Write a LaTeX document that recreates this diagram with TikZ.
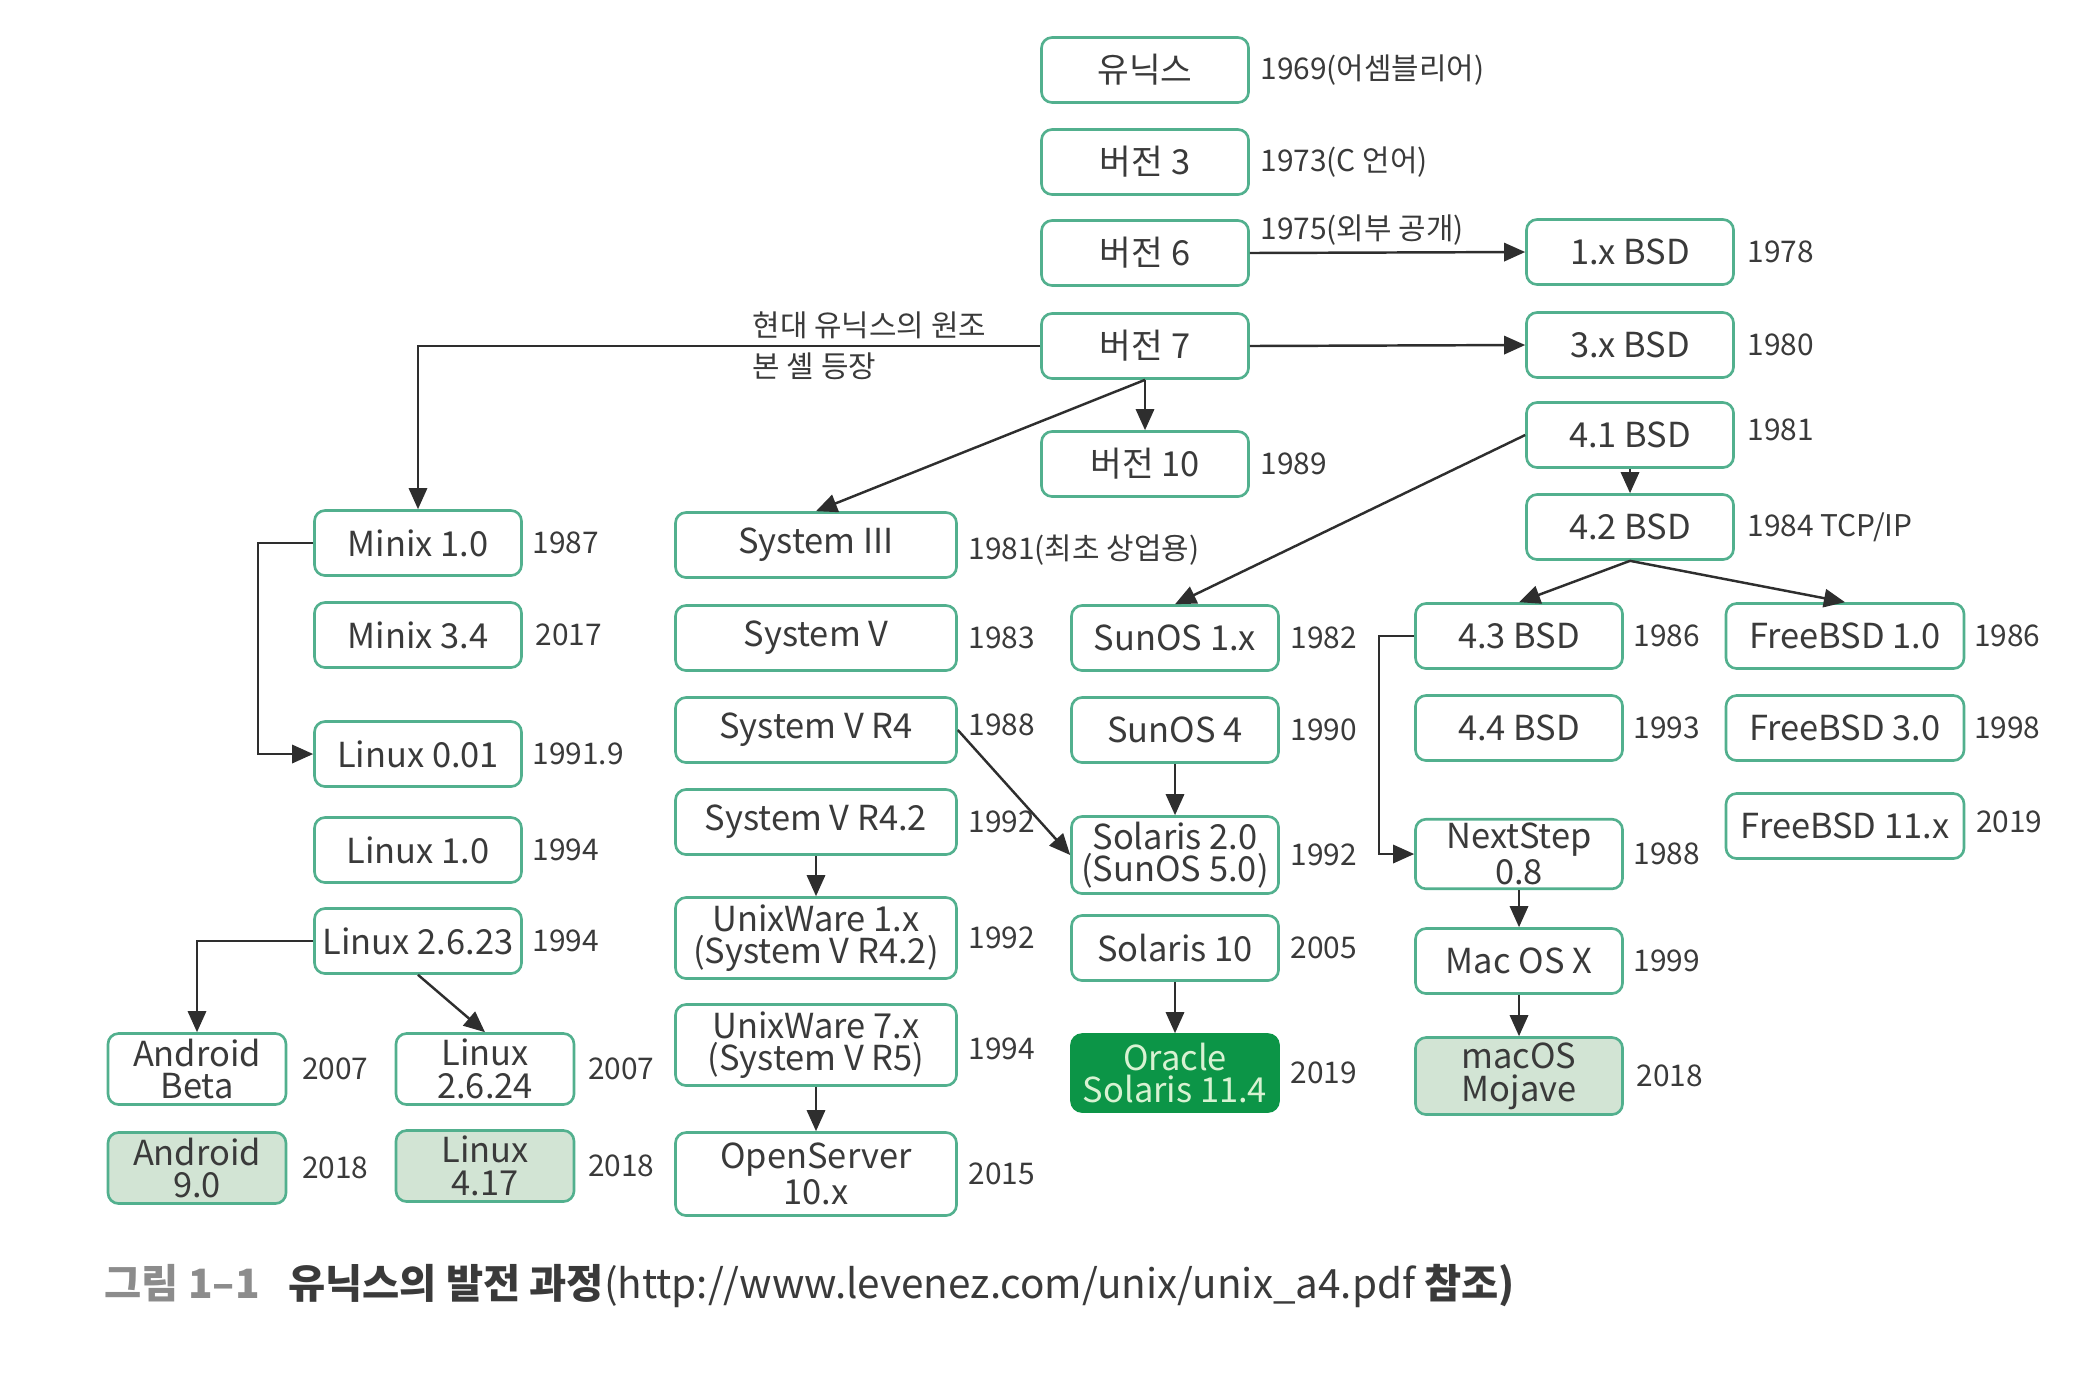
\documentclass[tikz,border=0pt]{standalone}
\usepackage{fontspec}
\setmainfont{Noto Sans CJK KR}
\usetikzlibrary{arrows.meta,positioning}
\definecolor{boxStroke}{HTML}{52B08E}
\definecolor{latestFill}{HTML}{D2E4D4}
\definecolor{oracleFill}{HTML}{0C9547}
\definecolor{oracleText}{HTML}{D8F2D2}
\definecolor{textMain}{HTML}{3A3A3A}
\definecolor{textMuted}{HTML}{8C8C8C}
\definecolor{lineDark}{HTML}{2E2E2E}

\begin{document}
\begin{tikzpicture}[
    font=\fontsize{9.8}{9.3}\selectfont,
    >={Triangle[length=6pt,width=5.2pt]},
    osNode/.style={
        rectangle, rounded corners=3pt,
        draw=boxStroke, line width=0.75pt,
        fill=white, text=textMain,
        minimum width=2.07cm, minimum height=0.65cm,
        inner sep=1pt, align=center
    },
    sysNode/.style={osNode, minimum width=2.81cm},
    freeNode/.style={osNode, minimum width=2.38cm},
    droidNode/.style={osNode, minimum width=1.78cm, minimum height=0.71cm},
    latestNode/.style={fill=latestFill},
    oracleNode/.style={osNode, fill=oracleFill, draw=oracleFill, text=oracleText},
    yearNote/.style={font=\fontsize{8.5}{10}\selectfont, text=textMain, inner sep=0pt},
    flow/.style={->, line width=0.7pt, draw=lineDark}
]
\useasboundingbox (0,0) rectangle (20.88,-13.76);

% Layout plan: one column per family, the year printed to the right of each box.
\node[osNode] (Unix) at (11.45,-0.70) {유닉스};
\node[osNode] (V3) at (11.45,-1.62) {버전 3};
\node[osNode] (V6) at (11.45,-2.53) {버전 6};
\node[osNode] (V7) at (11.45,-3.46) {버전 7};
\node[osNode] (V10) at (11.45,-4.64) {버전 10};
\node[yearNote, right=0.1cm of Unix] (UnixYear) {1969(어셈블리어)};
\node[yearNote, right=0.1cm of V3] (V3Year) {1973(C 언어)};
\node[yearNote, anchor=south west] (V6Year) at ([xshift=0.1cm, yshift=0.07cm]V6.east) {1975(외부 공개)};
\node[yearNote, right=0.1cm of V10] (V10Year) {1989};
\node[yearNote, anchor=west] (V7NoteA) at (7.52,-3.25) {현대 유닉스의 원조};
\node[yearNote, anchor=west] (V7NoteB) at (7.52,-3.66) {본 셸 등장};

\node[osNode] (BSD1) at (16.30,-2.52) {1.x BSD};
\node[osNode] (BSD3) at (16.30,-3.45) {3.x BSD};
\node[osNode] (BSD41) at (16.30,-4.35) {4.1 BSD};
\node[osNode] (BSD42) at (16.30,-5.27) {4.2 BSD};
\node[yearNote, right=0.12cm of BSD1] (BSD1Year) {1978};
\node[yearNote, right=0.12cm of BSD3] (BSD3Year) {1980};
\node[yearNote, right=0.12cm of BSD41, yshift=0.05cm] (BSD41Year) {1981};
\node[yearNote, right=0.12cm of BSD42] (BSD42Year) {1984 TCP/IP};

\node[sysNode] (SysIII) at (8.16,-5.45) {System III};
\node[sysNode] (SysV) at (8.16,-6.38) {System V};
\node[sysNode] (SysVR4) at (8.16,-7.30) {System V R4};
\node[sysNode] (SysVR42) at (8.16,-8.22) {System V R4.2};
\node[sysNode, minimum height=0.81cm] (UnixWare1) at (8.16,-9.38) {UnixWare 1.x\\(System V R4.2)};
\node[sysNode, minimum height=0.81cm] (UnixWare7) at (8.16,-10.45) {UnixWare 7.x\\(System V R5)};
\node[sysNode, minimum height=0.83cm] (OpenServer) at (8.16,-11.74) {OpenServer\\10.x};
\node[yearNote, right=0.1cm of SysIII, yshift=-0.05cm] (SysIIIYear) {1981(최초 상업용)};
\node[yearNote, right=0.1cm of SysV] (SysVYear) {1983};
\node[yearNote, right=0.1cm of SysVR4, yshift=0.05cm] (SysVR4Year) {1988};
\node[yearNote, right=0.1cm of SysVR42] (SysVR42Year) {1992};
\node[yearNote, right=0.1cm of UnixWare1] (UnixWare1Year) {1992};
\node[yearNote, right=0.1cm of UnixWare7, yshift=-0.04cm] (UnixWare7Year) {1994};
\node[yearNote, right=0.1cm of OpenServer] (OpenServerYear) {2015};

\node[osNode] (SunOS1) at (11.75,-6.38) {SunOS 1.x};
\node[osNode] (SunOS4) at (11.75,-7.30) {SunOS 4};
\node[osNode, minimum height=0.77cm] (Solaris2) at (11.75,-8.55) {Solaris 2.0\\(SunOS 5.0)};
\node[osNode] (Solaris10) at (11.75,-9.48) {Solaris 10};
\node[oracleNode, minimum height=0.77cm] (Oracle) at (11.75,-10.73) {Oracle\\Solaris 11.4};
\node[yearNote, right=0.1cm of SunOS1] (SunOS1Year) {1982};
\node[yearNote, right=0.1cm of SunOS4] (SunOS4Year) {1990};
\node[yearNote, right=0.1cm of Solaris2] (Solaris2Year) {1992};
\node[yearNote, right=0.1cm of Solaris10] (Solaris10Year) {2005};
\node[yearNote, right=0.1cm of Oracle] (OracleYear) {2019};

\node[osNode] (BSD43) at (15.19,-6.36) {4.3 BSD};
\node[osNode] (BSD44) at (15.19,-7.28) {4.4 BSD};
\node[osNode, minimum height=0.69cm] (NextStep) at (15.19,-8.54) {NextStep\\0.8};
\node[osNode] (MacOSX) at (15.19,-9.61) {Mac OS X};
\node[osNode, latestNode, minimum height=0.77cm] (Mojave) at (15.19,-10.76) {macOS\\Mojave};
\node[yearNote, right=0.09cm of BSD43] (BSD43Year) {1986};
\node[yearNote, right=0.09cm of BSD44] (BSD44Year) {1993};
\node[yearNote, right=0.09cm of NextStep] (NextStepYear) {1988};
\node[yearNote, right=0.09cm of MacOSX] (MacOSXYear) {1999};
\node[yearNote, right=0.12cm of Mojave] (MojaveYear) {2018};

\node[freeNode] (FreeBSD1) at (18.45,-6.36) {FreeBSD 1.0};
\node[freeNode] (FreeBSD3) at (18.45,-7.28) {FreeBSD 3.0};
\node[freeNode] (FreeBSD11) at (18.45,-8.26) {FreeBSD 11.x};
\node[yearNote, right=0.08cm of FreeBSD1] (FreeBSD1Year) {1986};
\node[yearNote, right=0.08cm of FreeBSD3] (FreeBSD3Year) {1998};
\node[yearNote, right=0.1cm of FreeBSD11, yshift=0.04cm] (FreeBSD11Year) {2019};

\node[osNode] (Minix1) at (4.18,-5.43) {Minix 1.0};
\node[osNode] (Minix34) at (4.18,-6.35) {Minix 3.4};
\node[osNode] (Linux001) at (4.18,-7.54) {Linux 0.01};
\node[osNode] (Linux10) at (4.18,-8.50) {Linux 1.0};
\node[osNode] (Linux2623) at (4.18,-9.41) {Linux 2.6.23};
\node[yearNote, right=0.09cm of Minix1] (Minix1Year) {1987};
\node[yearNote, right=0.12cm of Minix34] (Minix34Year) {2017};
\node[yearNote, right=0.09cm of Linux001] (Linux001Year) {1991.9};
\node[yearNote, right=0.09cm of Linux10] (Linux10Year) {1994};
\node[yearNote, right=0.09cm of Linux2623] (Linux2623Year) {1994};

\node[droidNode] (AndroidBeta) at (1.97,-10.69) {Android\\Beta};
\node[droidNode] (Linux2624) at (4.85,-10.69) {Linux\\2.6.24};
\node[droidNode, latestNode] (Android9) at (1.97,-11.68) {Android\\9.0};
\node[droidNode, latestNode] (Linux417) at (4.85,-11.66) {Linux\\4.17};
\node[yearNote, right=0.14cm of AndroidBeta] (AndroidBetaYear) {2007};
\node[yearNote, right=0.12cm of Linux2624] (Linux2624Year) {2007};
\node[yearNote, right=0.14cm of Android9] (Android9Year) {2018};
\node[yearNote, right=0.12cm of Linux417] (Linux417Year) {2018};

\node[anchor=west, inner sep=0pt, font=\fontsize{11.5}{13}\selectfont\bfseries, text=textMain] (Caption) at (1.04,-12.86)
  {\textcolor{textMuted}{그림 1–1}\hspace{0.7em}유닉스의 발전 과정\mdseries(http://www.levenez.com/unix/unix\_a4.pdf \bfseries 참조)};

\draw[flow] (V6.east) -- (BSD1.west);
\draw[flow] (V7.east) -- (BSD3.west);
\draw[flow] (V7.west) -| (Minix1.north);
\draw[flow] (V7.south) -- (V10.north);
\draw[flow] (V7.south) -- (SysIII.north);
\draw[flow] (BSD41.south) -- (BSD42.north);
\draw[flow] (BSD41.west) -- (SunOS1.north);
\draw[flow] (BSD42.south) -- (BSD43.north);
\draw[flow] (BSD42.south) -- (FreeBSD1.north);
\draw[flow] (BSD43.west) -- ++(-0.35,0) |- (NextStep.west);
\draw[flow] (NextStep.south) -- (MacOSX.north);
\draw[flow] (MacOSX.south) -- (Mojave.north);
\draw[flow] (SysVR4.east) -- (Solaris2.west);
\draw[flow] (SunOS4.south) -- (Solaris2.north);
\draw[flow] (Solaris10.south) -- (Oracle.north);
\draw[flow] (SysVR42.south) -- (UnixWare1.north);
\draw[flow] (UnixWare7.south) -- (OpenServer.north);
\draw[flow] (Minix1.west) -- ++(-0.55,0) |- (Linux001.west);
\draw[flow] (Linux2623.west) -| (AndroidBeta.north);
\draw[flow] (Linux2623.south) -- (Linux2624.north);

\end{tikzpicture}
\end{document}
